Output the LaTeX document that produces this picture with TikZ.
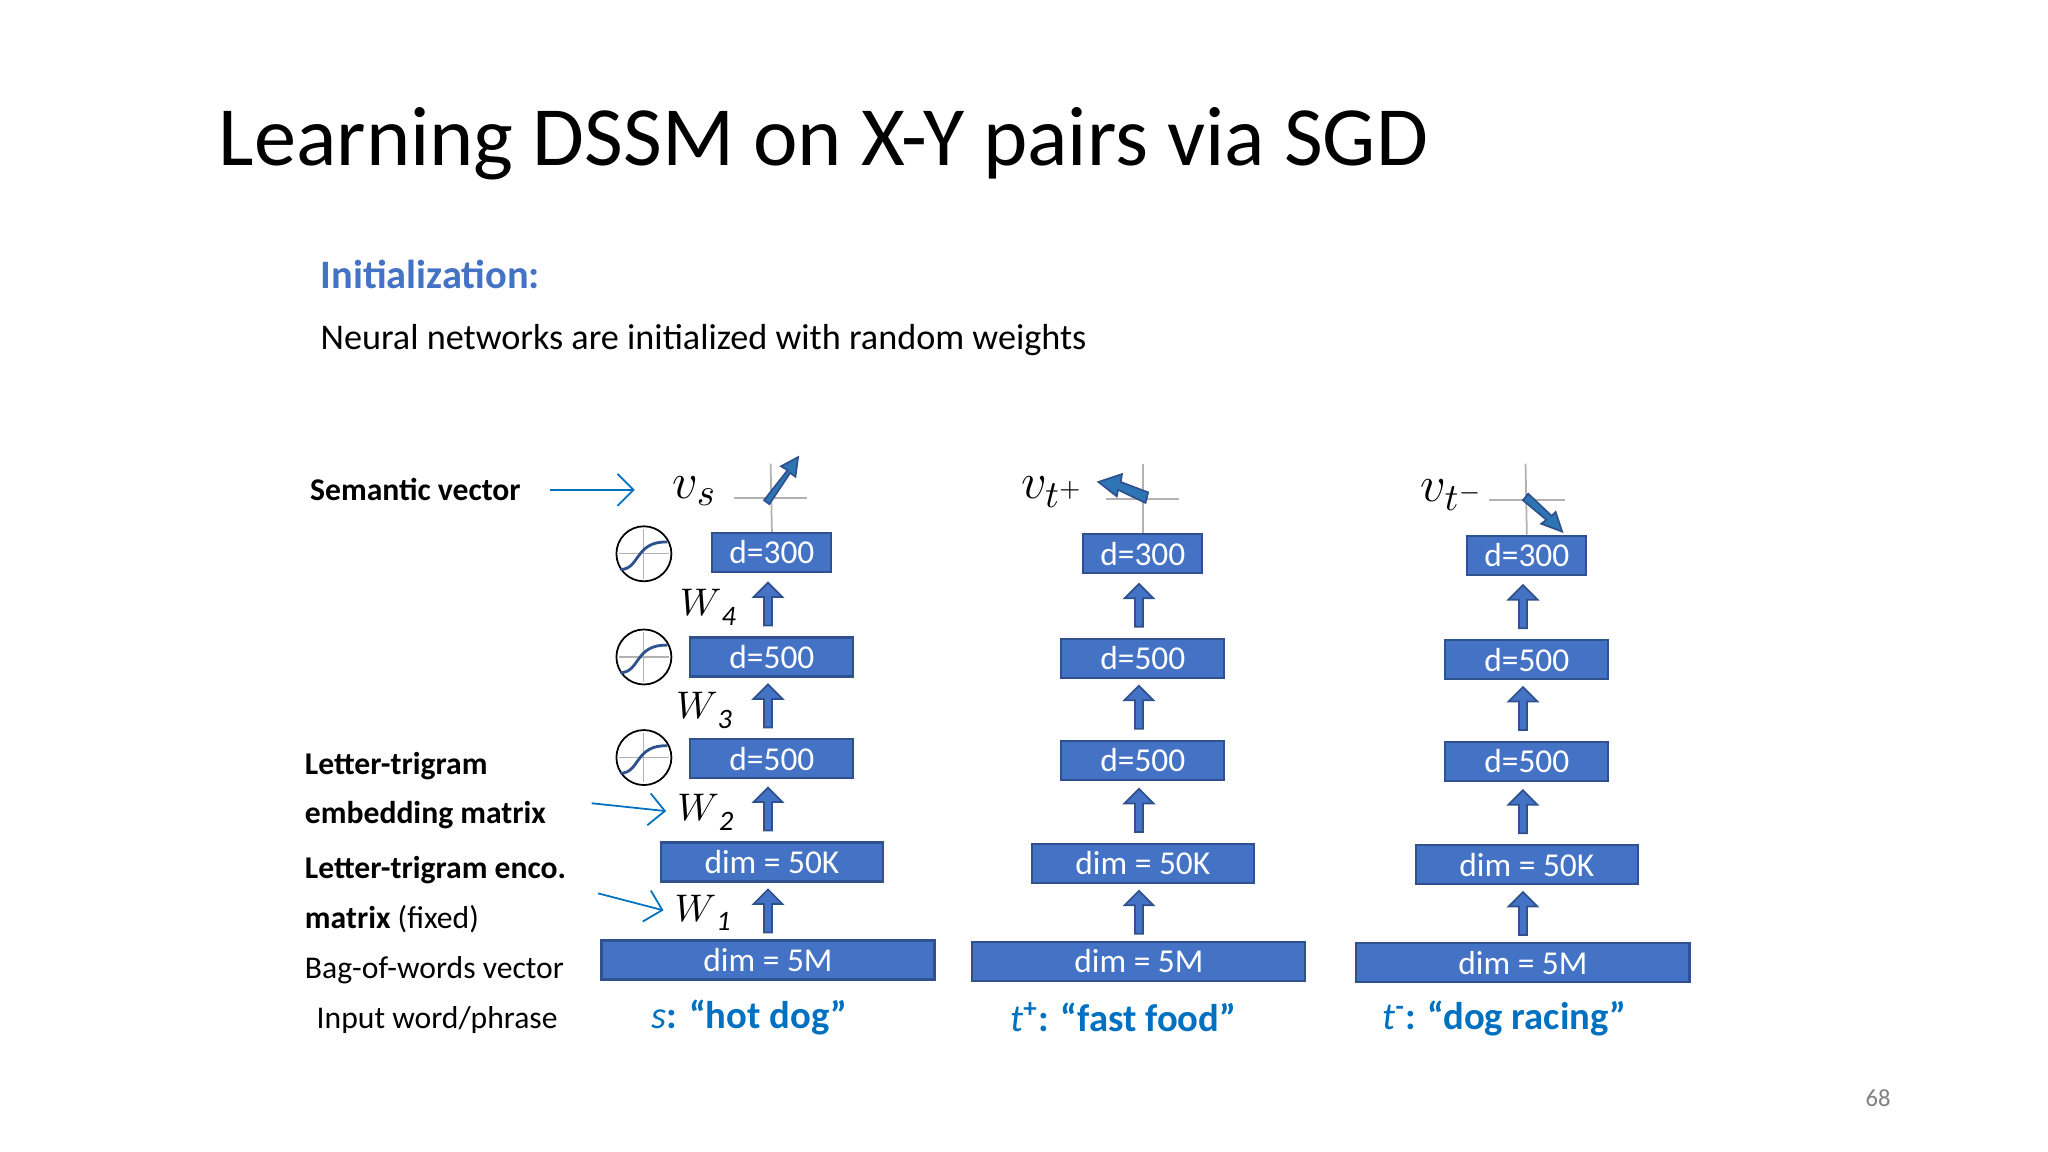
\documentclass[tikz,border=0pt]{standalone}
\usepackage{fontspec}
\setmainfont{Carlito}
\usetikzlibrary{shapes.arrows,arrows.meta}
\definecolor{boxblue}{HTML}{4472C4}
\definecolor{boxedge}{HTML}{2F528F}
\definecolor{headblue}{HTML}{4472C4}
\definecolor{txtblue}{HTML}{0070C0}
\definecolor{vecblue}{HTML}{2E75B6}
\begin{document}
\begin{tikzpicture}[x=0.01306cm,y=-0.01306cm,
  lay/.style={draw=boxedge,fill=boxblue,text=white,minimum height=0.39cm,inner sep=0pt,font=\fontsize{9.5}{11}\selectfont,line width=0.6pt},
  up/.style={single arrow,draw=boxedge,fill=boxblue,shape border rotate=90,minimum height=0.43cm,minimum width=0.29cm,single arrow head extend=0.07cm,inner sep=0.5pt,line width=0.5pt},
  axis/.style={draw=gray!60,line width=0.5pt},
  vec/.style={draw=boxedge,line width=0.5pt,fill=vecblue},
  lbl/.style={anchor=west,font=\fontsize{9}{10}\selectfont},
  ptr/.style={draw=txtblue,line width=0.5pt,-{Straight Barb[length=1.6mm]}},
  wl/.style={font=\fontsize{11}{12}\selectfont\itshape},
  sig/.style={circle,draw,minimum size=0.55cm,inner sep=0pt,line width=0.5pt},
  inp/.style={font=\fontsize{11}{12}\selectfont\bfseries,text=txtblue}]
\path[use as bounding box] (0,0) rectangle (1568,882);
\node[anchor=west,font=\fontsize{24}{28}\selectfont] (title) at (158,110) {Learning DSSM on X-Y pairs via SGD};
\node[anchor=west,font=\fontsize{11.5}{13}\selectfont\bfseries,text=headblue] (init) at (236,210) {Initialization:};
\node[anchor=west,font=\fontsize{10.3}{12}\selectfont] (neural) at (236,260) {Neural networks are initialized with random weights};
% columns
\foreach \col/\dx/\dy in {a/0/0,b/284/1,c/578/2}{
  \begin{scope}[shift={(\dx,\dy)}]
  \node[lay,minimum width=1.19cm] (\col-300) at (591,423) {d=300};
  \node[lay,minimum width=1.63cm] (\col-500b) at (591,503) {d=500};
  \node[lay,minimum width=1.63cm] (\col-500a) at (591,581) {d=500};
  \node[lay,minimum width=2.22cm] (\col-50k) at (591,660) {dim = 50K};
  \node[lay,minimum width=3.33cm] (\col-5m) at (588,735) {dim = 5M};
  \node[up] (\col-u4) at (588,464) {};
  \node[up] (\col-u3) at (588,542) {};
  \node[up] (\col-u2) at (588,621) {};
  \node[up] (\col-u1) at (588,699) {};
  \end{scope}
}
% axes and vectors
\draw[axis] (562,381) -- (618,381); \draw[axis] (590,355) -- (a-300.north);
\draw[axis] (847,382) -- (903,382); \draw[axis] (875,355) -- (b-300.north);
\draw[axis] (1140,383) -- (1198,383); \draw[axis] (1168,355) -- (c-300.north);
\draw[vec] (585,383) -- (603,360) -- (598,357) -- (611,350) -- (609,365) -- (605,362) -- (589,386) -- cycle;
\draw[vec] (879,377) -- (858,369) -- (859,363) -- (841,369) -- (855,380) -- (856,375) -- (877,385) -- cycle;
\draw[vec] (1166,383) -- (1184,398) -- (1180,401) -- (1196,407) -- (1191,392) -- (1188,395) -- (1170,378) -- cycle;
\node[font=\fontsize{15}{16}\selectfont] (vs) at (532,376) {$v_s$};
\node[font=\fontsize{15}{16}\selectfont] (vtp) at (806,377) {$v_{t^+}$};
\node[font=\fontsize{15}{16}\selectfont] (vtm) at (1112,379) {$v_{t^-}$};
% sigmoids
\foreach \n/\y in {s1/424,s2/503,s3/580}{
  \node[sig] (\n) at (493,\y) {};
  \draw[gray!60,line width=0.3pt] (474,\y) -- (512,\y) (493,\y-19) -- (493,\y+19);
  \draw[boxedge,line width=0.8pt] (475,\y+12) .. controls (490,\y+12) and (486,\y-10) .. (511,\y-9);
}
% W labels
\node[wl] (w4) at (542,465) {$W$\raisebox{-0.5ex}{\fontsize{8}{9}\selectfont 4}};
\node[wl] (w3) at (539,544) {$W$\raisebox{-0.5ex}{\fontsize{8}{9}\selectfont 3}};
\node[wl] (w2) at (540,622) {$W$\raisebox{-0.5ex}{\fontsize{8}{9}\selectfont 2}};
\node[wl] (w1) at (538,699) {$W$\raisebox{-0.5ex}{\fontsize{8}{9}\selectfont 1}};
% left labels
\node[lbl,font=\fontsize{9}{10}\selectfont\bfseries] (sem) at (228,375) {Semantic vector};
\coordinate (sems) at (421,375); \coordinate (seme) at (486,375);
\draw[ptr] (sems) -- (seme);
\node[lbl,align=left] (emb) at (224,605) {\textbf{Letter-trigram}\\[4pt]\textbf{embedding matrix}};
\coordinate (embs) at (453,615); \coordinate (embe) at (510,621);
\draw[ptr] (embs) -- (embe);
\node[lbl,align=left] (enc) at (224,685) {\textbf{Letter-trigram enco.}\\[4pt]\textbf{matrix} (fixed)};
\coordinate (encs) at (458,684); \coordinate (ence) at (508,697);
\draw[ptr] (encs) -- (ence);
\node[lbl] (bow) at (224,743) {Bag-of-words vector};
\node[lbl] (iwp) at (233,781) {Input word/phrase};
% inputs
\node[inp] (ins) at (574,779) {\textmd{\itshape s}: “hot dog”};
\node[inp] (int) at (860,779) {\textmd{\itshape t}\textsuperscript{+}: “fast food”};
\node[inp] (inm) at (1152,780) {\textmd{\itshape t}\textsuperscript{-}: “dog racing”};
\node[font=\fontsize{7}{8}\selectfont,text=gray] (pg) at (1438,841) {68};
\end{tikzpicture}
\end{document}
